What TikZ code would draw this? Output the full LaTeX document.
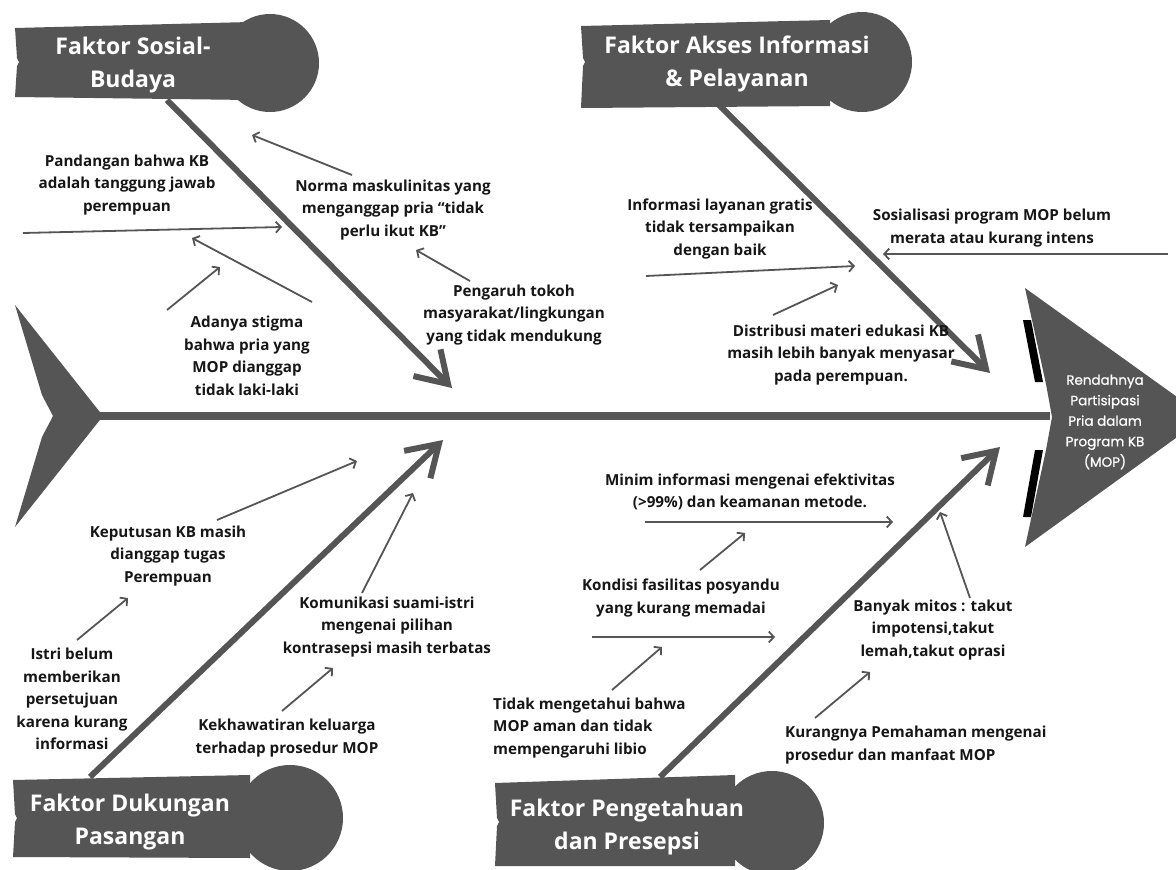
\documentclass[tikz,border=0pt]{standalone}
\usepackage{fontspec}
\setmainfont{Open Sans}
\newfontfamily\headfont{Poppins}[BoldFont=Poppins, BoldFeatures={FakeBold=0.7}]
\usetikzlibrary{arrows.meta}
\definecolor{dk}{RGB}{85,85,85}
\definecolor{txt}{RGB}{22,22,22}
\tikzset{
  lbl/.style={font=\bfseries\fontsize{15.2}{22.5}\selectfont, text=txt, align=center, inner sep=0pt},
  hdr/.style={font=\bfseries\fontsize{23}{33}\selectfont, text=white, align=center, inner sep=0pt},
  rib/.style={draw=dk, line width=6pt, -{Straight Barb[length=30pt,width=38pt,line width=6pt]}},
  sub/.style={draw=dk, line width=1.8pt, -{Straight Barb[length=5pt,width=11pt]}},
  shape fill/.style={fill=dk}
}
\begin{document}
\begin{tikzpicture}[x=1pt,y=-1pt]
\useasboundingbox (0,0) rectangle (1176,870);
\fill[white] (0,0) rectangle (1176,870);

% ---- coordinates
\coordinate (r1s) at (167,100); \coordinate (r1e) at (452,388);
\coordinate (r2s) at (717,103); \coordinate (r2e) at (990,373);
\coordinate (r3s) at (90,777);  \coordinate (r3e) at (443,440);
\coordinate (r4s) at (660,777); \coordinate (r4e) at (1000,447);
\coordinate (sp0) at (100,416); \coordinate (sp1) at (1050,416);

% ---- spine
\draw[dk, line width=8pt] (sp0) -- (sp1);
% tail
\fill[shape fill] (15,305) -- (103,416) -- (15,527) -- (42,437) -- (53,416) -- (42,395) -- cycle;
% head
\fill[black] (1023,320) -- (1031,320) -- (1043,382) -- (1035,382) -- cycle;
\fill[black] (1035,450) -- (1043,450) -- (1031,517) -- (1023,517) -- cycle;
\fill[shape fill] (1025,288) -- (1205,417) -- (1025,547) -- (1046,450) -- (1052,417) -- (1046,384) -- cycle;
\node[font=\headfont\bfseries\fontsize{13.5}{20.5}\selectfont, text=white, align=center, inner sep=0pt] (head) at (1105,422)
  {Rendahnya\\Partisipasi\\Pria dalam\\Program KB\\(MOP)};

% ---- ribs
\draw[rib] (r1s) -- (r1e);
\draw[rib] (r2s) -- (r2e);
\draw[rib] (r3s) -- (r3e);
\draw[rib] (r4s) -- (r4e);

% ---- headers
\fill[shape fill] (15,28) -- (250,22) -- (250,100) -- (15,97) -- (17,66) -- (19,62) -- (17,58) -- cycle;
\fill[shape fill] (270,63) circle[radius=49pt];
\node[hdr] (h1) at (133,65) {Faktor Sosial-\\Budaya};

\fill[shape fill] (581,26) -- (830,20) -- (830,106) -- (581,108) -- (583,66) -- (585,62) -- (583,58) -- cycle;
\fill[shape fill] (862,62) circle[radius=50pt];
\node[hdr] (h2) at (737,64) {Faktor Akses Informasi\\\& Pelayanan};

\fill[shape fill] (13,780) -- (250,775) -- (250,858) -- (13,857) -- (15,822) -- (17,818) -- (15,814) -- cycle;
\fill[shape fill] (290,818) circle[radius=53pt];
\node[hdr] (h3) at (130,822) {Faktor Dukungan\\Pasangan};

\fill[shape fill] (495,783) -- (735,775) -- (735,866) -- (495,866) -- (497,826) -- (499,822) -- (497,818) -- cycle;
\fill[shape fill] (772,823) circle[radius=52pt];
\node[hdr] (h4) at (627,827) {Faktor Pengetahuan\\dan Presepsi};

% ---- labels
\node[lbl] (t1) at (127,185) {Pandangan bahwa KB\\adalah tanggung jawab\\perempuan};
\node[lbl] (t2) at (393,210) {Norma maskulinitas yang\\menganggap pria “tidak\\perlu ikut KB”};
\node[lbl] (t3) at (247,356) {Adanya stigma\\bahwa pria yang\\MOP dianggap\\tidak laki-laki};
\node[lbl] (t4) at (514,315) {Pengaruh tokoh\\masyarakat/lingkungan\\yang tidak mendukung};
\node[lbl] (t5) at (720,229) {Informasi layanan gratis\\tidak tersampaikan\\dengan baik};
\node[lbl] (t6) at (992,228) {Sosialisasi program MOP belum\\merata atau kurang intens};
\node[lbl] (t7) at (841,355) {Distribusi materi edukasi KB\\masih lebih banyak menyasar\\pada perempuan.};
\node[lbl] (t8) at (168,556) {Keputusan KB masih\\dianggap tugas\\Perempuan};
\node[lbl] (t9) at (72,699) {Istri belum\\memberikan\\persetujuan\\karena kurang\\informasi};
\node[lbl] (t10) at (387,627) {Komunikasi suami-istri\\mengenai pilihan\\kontrasepsi masih terbatas};
\node[lbl] (t11) at (287,738) {Kekhawatiran keluarga\\terhadap prosedur MOP};
\node[lbl] (t12) at (750,492) {Minim informasi mengenai efektivitas\\(>99\%) dan keamanan metode.};
\node[lbl] (t13) at (681,598) {Kondisi fasilitas posyandu\\yang kurang memadai};
\node[lbl, align=left, anchor=west] (t14) at (493,728) {Tidak mengetahui bahwa\\MOP aman dan tidak\\mempengaruhi libio};
\node[lbl] (t15) at (933,630) {Banyak mitos : takut\\impotensi,takut\\lemah,takut oprasi};
\node[lbl, align=left, anchor=west] (t16) at (785,745) {Kurangnya Pemahaman mengenai\\prosedur dan manfaat MOP};

% ---- sub arrows
\coordinate (a1s) at (23,233);  \coordinate (a1e) at (282,227);
\coordinate (a2s) at (352,175); \coordinate (a2e) at (252,135);
\coordinate (a3s) at (312,302); \coordinate (a3e) at (192,238);
\coordinate (a4s) at (167,310); \coordinate (a4e) at (220,267);
\coordinate (a5s) at (470,281); \coordinate (a5e) at (416,250);
\coordinate (a6s) at (646,276); \coordinate (a6e) at (855,266);
\coordinate (a7s) at (1168,254); \coordinate (a7e) at (883,254);
\coordinate (a8s) at (773,315); \coordinate (a8e) at (838,285);
\coordinate (a9s) at (217,520); \coordinate (a9e) at (357,461);
\coordinate (a10s) at (77,640); \coordinate (a10e) at (128,598);
\coordinate (a11s) at (362,593); \coordinate (a11e) at (413,493);
\coordinate (a12s) at (282,711); \coordinate (a12e) at (333,668);
\coordinate (a13s) at (645,522); \coordinate (a13e) at (893,522);
\coordinate (a14s) at (700,570); \coordinate (a14e) at (745,533);
\coordinate (a15s) at (592,637); \coordinate (a15e) at (775,637);
\coordinate (a16s) at (612,690); \coordinate (a16e) at (662,647);
\coordinate (a17s) at (970,598); \coordinate (a17e) at (940,512);
\coordinate (a18s) at (815,718); \coordinate (a18e) at (870,672);
\foreach \i in {1,...,18} { \draw[sub] (a\i s) -- (a\i e); }
\end{tikzpicture}
\end{document}
